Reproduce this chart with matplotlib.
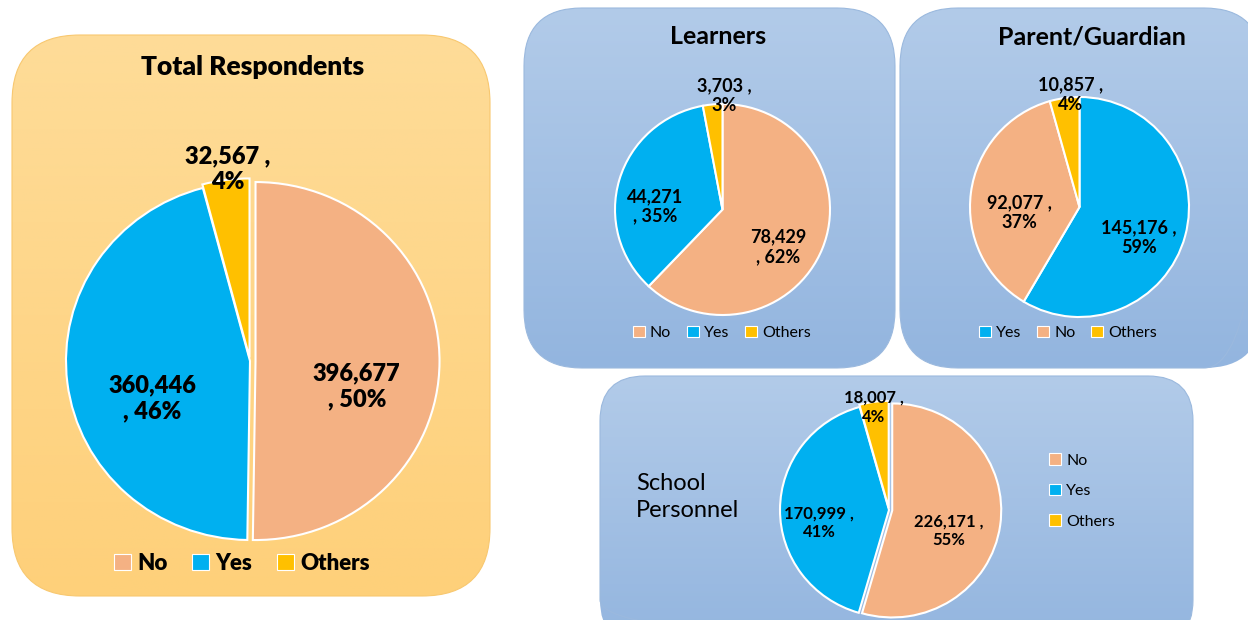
import numpy as np
import matplotlib
matplotlib.use("Agg")
import matplotlib.pyplot as plt
from matplotlib.patches import FancyBboxPatch, Patch

# ---- datos ----
cats_total = ["No", "Yes", "Others"]
vals_total = [396677, 360446, 32567]
pct_total = [50, 46, 4]

cats_learn = ["No", "Yes", "Others"]
vals_learn = [78429, 44271, 3703]
pct_learn = [62, 35, 3]

cats_parent = ["Yes", "No", "Others"]
vals_parent = [145176, 92077, 10857]
pct_parent = [59, 37, 4]

cats_school = ["No", "Yes", "Others"]
vals_school = [226171, 170999, 18007]
pct_school = [55, 41, 4]

COLORES = {"No": "#F4B183", "Yes": "#00B0F0", "Others": "#FFC000"}

W, H = 1248, 620
fig = plt.figure(figsize=(W / 100, H / 100), dpi=100)
fig.patch.set_facecolor("white")

bg = fig.add_axes([0, 0, 1, 1])
bg.set_xlim(0, W)
bg.set_ylim(H, 0)
bg.axis("off")

FUENTE = ["Lato", "DejaVu Sans"]


def panel(x0, y0, x1, y1, r, top, bottom, borde):
    caja = FancyBboxPatch((x0, y0), x1 - x0, y1 - y0,
                          boxstyle=f"round,pad=0,rounding_size={r}",
                          facecolor="none", edgecolor=borde, lw=0.8, zorder=2)
    bg.add_patch(caja)
    t = np.linspace(0, 1, 256)[:, None]
    top = np.array(matplotlib.colors.to_rgb(top))
    bottom = np.array(matplotlib.colors.to_rgb(bottom))
    grad = top[None, None, :] * (1 - t[..., None]) + bottom[None, None, :] * t[..., None]
    grad = np.repeat(grad, 2, axis=1)
    im = bg.imshow(grad, extent=[x0, x1, y1, y0], origin="upper", zorder=1)
    im.set_clip_path(caja)
    bg.set_aspect("auto")
    bg.set_xlim(0, W)
    bg.set_ylim(H, 0)


def px(x0, y0, x1, y1):
    return [x0 / W, 1 - y1 / H, (x1 - x0) / W, (y1 - y0) / H]


def torta(bbox, cats, vals, pcts, seps, lab_xy, fs, peso="bold", explode=None):
    ax = fig.add_axes(px(*bbox))
    ax.set_facecolor("none")
    wedges, _ = ax.pie(vals, colors=[COLORES[c] for c in cats], startangle=90,
                       counterclock=False, explode=explode,
                       wedgeprops=dict(edgecolor="white", linewidth=1.5))
    ax.set_xlim(-1, 1)
    ax.set_ylim(-1, 1)
    ax.set_aspect("auto")
    ax.axis("off")
    for v, p, s, (x, y) in zip(vals, pcts, seps, lab_xy):
        ax.text(x, y, f"{v:,}{s}{p}%", ha="center", va="center", fontsize=fs,
                fontweight=peso, family=FUENTE, linespacing=1.2)
    return ax, wedges


def leyenda(cats, loc_xy, fs, ncol, peso="normal", spacing=1.0, colsp=1.2):
    handles = [Patch(facecolor=COLORES[c], edgecolor="white", lw=0.8) for c in cats]
    fig.legend(handles, cats, loc="center", bbox_to_anchor=(loc_xy[0] / W, 1 - loc_xy[1] / H),
               ncol=ncol, frameon=False, handlelength=0.75, handleheight=0.75,
               handletextpad=0.3, columnspacing=colsp, labelspacing=spacing,
               prop=dict(family=FUENTE, size=fs, weight=peso))


# paneles de fondo
panel(12, 35, 490, 596, 68, "#FEDC98", "#FED07A", "#F8C870")
panel(524, 8, 895, 368, 58, "#B2CBE9", "#93B5DF", "#9BB9DE")
panel(900, 8, 1262, 368, 58, "#B2CBE9", "#93B5DF", "#9BB9DE")
panel(600, 376, 1193, 645, 45, "#B2CBE9", "#93B5DF", "#9BB9DE")

# Total Respondents
bg.text(253, 67, "Total Respondents", ha="center", va="center", fontsize=19,
        fontweight="heavy", family=FUENTE)
torta((66, 182, 434, 540), cats_total, vals_total, pct_total,
      ["\n, ", "\n, ", " ,\n"], [(0.58, -0.14), (-0.53, -0.21), (-0.12, 1.07)],
      17, peso="heavy", explode=[0.03, 0, 0.02])
leyenda(cats_total, (242, 563), 16, 3, peso="heavy", colsp=1.1)

# Learners
bg.text(718, 37, "Learners", ha="center", va="center", fontsize=18,
        fontweight="bold", family=FUENTE)
torta((615, 104, 830, 315), cats_learn, vals_learn, pct_learn,
      ["\n, ", "\n, ", " ,\n"], [(0.52, -0.35), (-0.63, 0.03), (0.02, 1.08)],
      13)
leyenda(cats_learn, (722, 333), 11.5, 3, colsp=1.0)

# Parent/Guardian
bg.text(1092, 37, "Parent/Guardian", ha="center", va="center", fontsize=18,
        fontweight="bold", family=FUENTE)
torta((970, 97, 1189, 317), cats_parent, vals_parent, pct_parent,
      [" ,\n", " ,\n", " ,\n"], [(0.54, -0.28), (-0.55, -0.05), (-0.08, 1.02)],
      13)
leyenda(cats_parent, (1068, 333), 11.5, 3, colsp=1.0)

# School Personnel
bg.text(636, 497, "School\nPersonnel", ha="left", va="center", fontsize=17,
        family=FUENTE, linespacing=1.3)
torta((780, 403, 998, 617), cats_school, vals_school, pct_school,
      [" ,\n", " ,\n", " ,\n"], [(0.55, -0.19), (-0.64, -0.12), (-0.14, 0.96)],
      12, explode=[0.03, 0, 0.02])
leyenda(cats_school, (1082, 491), 11.5, 1, spacing=1.0)

fig.savefig("out.png", dpi=100, facecolor="white")
